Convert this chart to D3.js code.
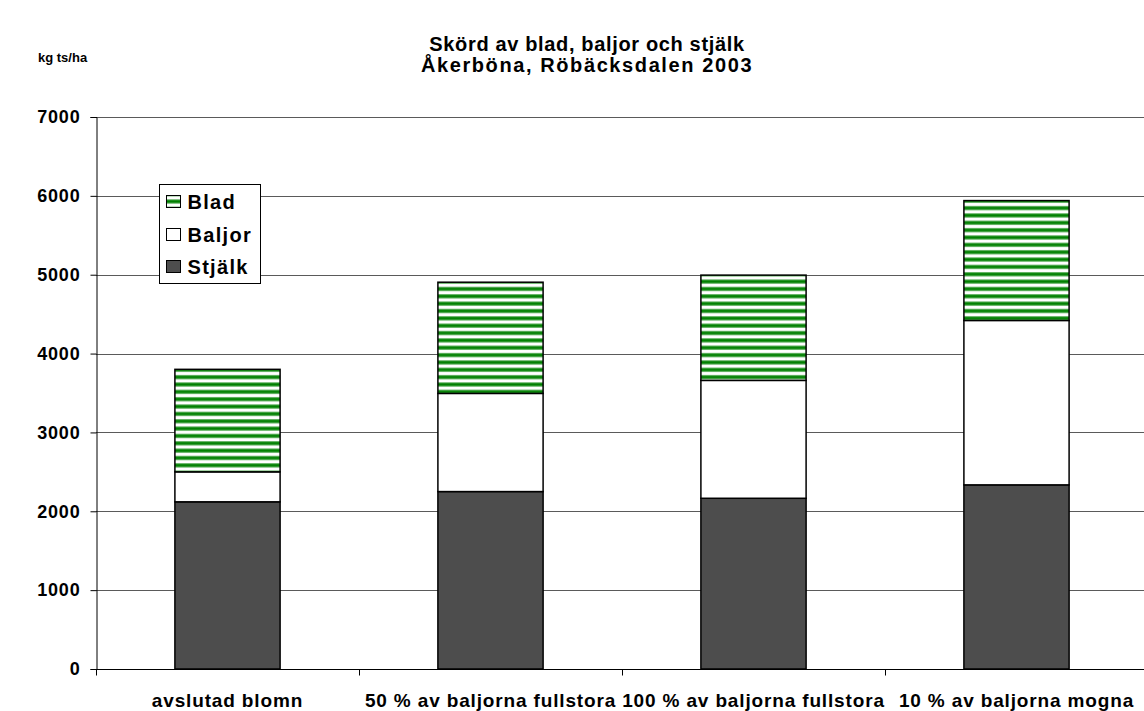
<!DOCTYPE html>
<html>
<head>
<meta charset="utf-8">
<script src="https://cdn.jsdelivr.net/npm/d3@7/dist/d3.min.js"></script>
<style>
  html, body { margin: 0; padding: 0; background: #fff; }
  svg { display: block; }
  text { font-family: "Liberation Sans", Arial, sans-serif; font-weight: bold; fill: #000; }
</style>
</head>
<body>
<svg id="chart" width="1144" height="711"></svg>
<script>
// Harvest of leaves, pods and stems (kg dry matter per hectare)
const categories = ["avslutad blomn", "50 % av baljorna fullstora", "100 % av baljorna fullstora", "10 % av baljorna mogna"];
const stjalk = [2120, 2250, 2165, 2335];
const baljor = [380, 1245, 1495, 2085];
const blad   = [1300, 1410, 1335, 1520];
const seriesNames = ["Stjälk", "Baljor", "Blad"];
const yTicks = [0, 1000, 2000, 3000, 4000, 5000, 6000, 7000];
const titleLines = ["Skörd av blad, baljor och stjälk", "Åkerböna, Röbäcksdalen 2003"];
const yUnit = "kg ts/ha";

const svg = d3.select("#chart");
const plot = { left: 96, right: 1148, top: 117, bottom: 669 };
const titleSpacing = [0.65, 1.6];

const rows = categories.map((c, i) => ({ cat: c, "Stjälk": stjalk[i], "Baljor": baljor[i], "Blad": blad[i] }));
const stacked = d3.stack().keys(seriesNames)(rows);

const x = d3.scaleBand().domain(categories).range([plot.left, plot.right])
  .paddingInner(0.6).paddingOuter(0.3);
const y = d3.scaleLinear().domain([0, 7000]).range([plot.bottom, plot.top]);

// striped fill for the leaf segment
const defs = svg.append("defs");
const ph = 7.35;
const pat = defs.append("pattern").attr("id", "stripes")
  .attr("patternUnits", "userSpaceOnUse").attr("width", 10).attr("height", ph);
pat.append("rect").attr("width", 10).attr("height", ph).attr("fill", "#fff");
pat.append("rect").attr("y", 0).attr("width", 10).attr("height", 1).attr("fill", "#6fb86f");
pat.append("rect").attr("y", 1).attr("width", 10).attr("height", 2.6).attr("fill", "#008000");
pat.append("rect").attr("y", 3.6).attr("width", 10).attr("height", 1).attr("fill", "#6fb86f");

const fills = { "Stjälk": "#4d4d4d", "Baljor": "#ffffff", "Blad": "url(#stripes)" };

// gridlines
svg.append("g").selectAll("line").data(yTicks.filter(d => d > 0)).join("line")
  .attr("x1", plot.left).attr("x2", plot.right)
  .attr("y1", d => Math.round(y(d)) + 0.5).attr("y2", d => Math.round(y(d)) + 0.5)
  .attr("stroke", "#5a5a5a").attr("stroke-width", 1);

// bars
svg.append("g").selectAll("g").data(stacked).join("g")
  .attr("fill", d => fills[d.key])
  .selectAll("rect").data(d => d).join("rect")
  .attr("x", d => x(d.data.cat))
  .attr("y", d => y(d[1]))
  .attr("width", x.bandwidth())
  .attr("height", d => y(d[0]) - y(d[1]))
  .attr("stroke", "#000").attr("stroke-width", 1.5);

// y axis
const yAxis = d3.axisLeft(y).tickValues(yTicks).tickSize(6).tickPadding(10).tickFormat(d3.format("d"));
const gy = svg.append("g").attr("transform", `translate(${plot.left + 0.5},0)`).call(yAxis);
gy.select(".domain").attr("stroke", "#000");
gy.selectAll(".tick line").attr("stroke", "#000");
gy.selectAll(".tick text").style("font-size", "18px").style("letter-spacing", "0.8px").attr("fill", "#000");

// x axis with ticks at the category boundaries
const gx = svg.append("g").attr("transform", `translate(0,${plot.bottom + 0.5})`);
gx.append("line").attr("x1", plot.left).attr("x2", plot.right).attr("stroke", "#000");
const bounds = d3.range(categories.length + 1).map(i => plot.left + i * x.step());
gx.selectAll("line.tk").data(bounds).join("line").attr("class", "tk")
  .attr("x1", d => Math.round(d) + 0.5).attr("x2", d => Math.round(d) + 0.5)
  .attr("y1", 0).attr("y2", 6).attr("stroke", "#000");
gx.selectAll("text").data(categories).join("text")
  .attr("x", d => x(d) + x.bandwidth() / 2).attr("y", 37)
  .attr("text-anchor", "middle").style("font-size", "19px").style("letter-spacing", "0.85px").text(d => d);

// title and unit
svg.append("g").selectAll("text").data(titleLines).join("text")
  .attr("x", 587).attr("y", (d, i) => 51 + i * 21)
  .attr("text-anchor", "middle").style("font-size", "20px")
  .style("letter-spacing", (d, i) => titleSpacing[i] + "px").text(d => d);
svg.append("text").attr("x", 38).attr("y", 62).style("font-size", "13px").text(yUnit);

// legend
const lg = svg.append("g").attr("transform", "translate(159.5,184.5)");
lg.append("rect").attr("width", 101).attr("height", 99).attr("fill", "#fff").attr("stroke", "#000");
const legendItems = ["Blad", "Baljor", "Stjälk"];
const legendY = [17, 50, 82];
legendItems.forEach((k, i) => {
  lg.append("rect").attr("x", 7).attr("y", legendY[i] - 6).attr("width", 14).attr("height", 12)
    .attr("fill", fills[k]).attr("stroke", "#000").attr("stroke-width", 1);
  lg.append("text").attr("x", 28).attr("y", legendY[i] + 7).style("font-size", "20px").style("letter-spacing", "1.3px").text(k);
});
</script>
</body>
</html>
